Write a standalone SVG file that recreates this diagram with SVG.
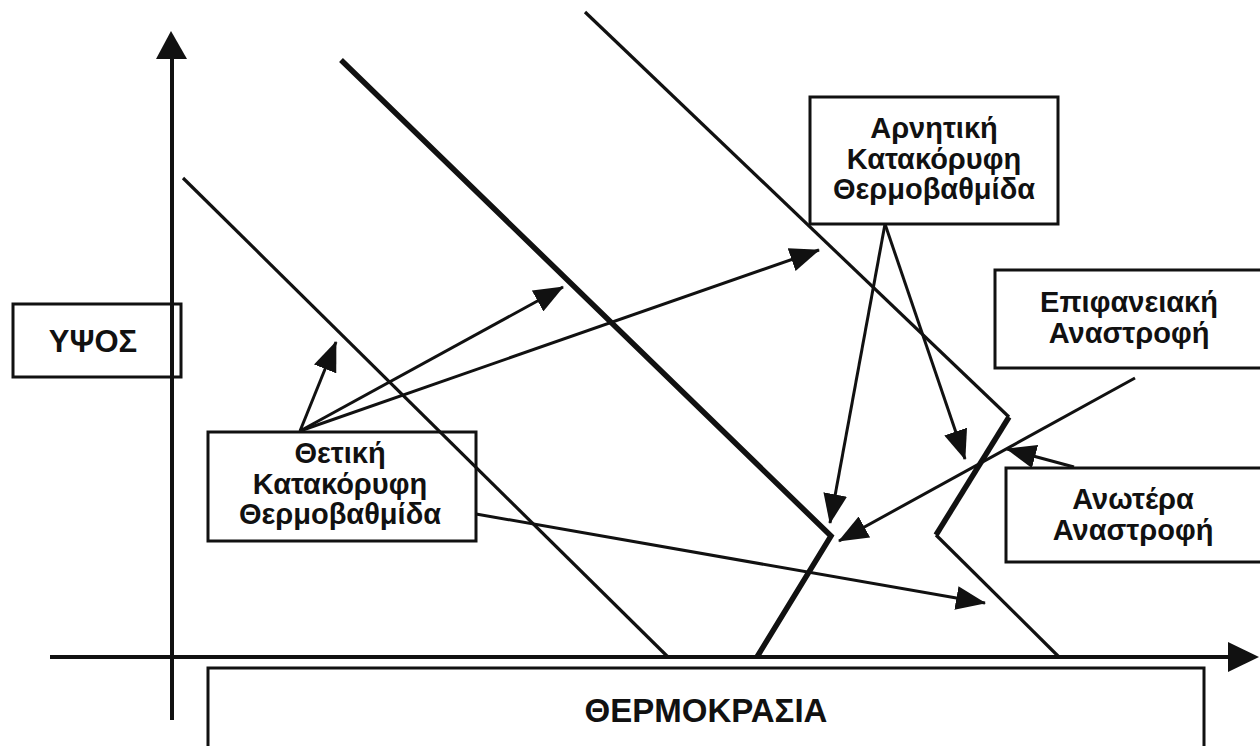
<svg xmlns="http://www.w3.org/2000/svg" width="1260" height="746" viewBox="0 0 1260 746">
<style>
.box{fill:#fff;stroke:#111;stroke-width:3}
.lbl{font-family:"Liberation Sans",Arial,sans-serif;font-weight:bold;font-size:29px;fill:#111;text-anchor:middle}
.big{font-size:31px}
.title{font-size:33px}
.thin{fill:none;stroke:#111;stroke-width:3.2;stroke-linejoin:miter}
.thick{fill:none;stroke:#111;stroke-width:5.5;stroke-linejoin:miter}
.conn{fill:none;stroke:#111;stroke-width:3;marker-end:url(#ah)}
.axis{fill:none;stroke:#111;stroke-width:4}
</style>
<defs>
<marker id="ah" markerUnits="userSpaceOnUse" markerWidth="30" markerHeight="24" viewBox="0 0 30 24" refX="29" refY="12" orient="auto">
<path d="M0,0 L30,12 L0,24 z" fill="#111"/>
</marker>
</defs>
<rect width="1260" height="746" fill="#fff"/>
<g id="ypsos">
<rect class="box" x="13" y="304" width="168" height="73"/>
<text class="lbl big" x="93" y="352">ΥΨΟΣ</text>
</g>
<g id="thermokrasia">
<rect class="box" x="208" y="668" width="996" height="90"/>
<text class="lbl title" x="706" y="722">ΘΕΡΜΟΚΡΑΣΙΑ</text>
</g>
<g id="thetiki">
<rect class="box" x="208" y="432" width="268" height="109"/>
<text class="lbl" x="340" y="463">Θετική</text>
<text class="lbl" x="340" y="494">Κατακόρυφη</text>
<text class="lbl" x="340" y="524">Θερμοβαθμίδα</text>
</g>
<g id="arnitiki">
<rect class="box" x="810" y="97" width="248" height="127"/>
<text class="lbl" x="934" y="138">Αρνητική</text>
<text class="lbl" x="934" y="169">Κατακόρυφη</text>
<text class="lbl" x="934" y="199">Θερμοβαθμίδα</text>
</g>
<g id="epifaneiaki">
<rect class="box" x="995" y="270" width="270" height="98"/>
<text class="lbl" x="1129" y="312">Επιφανειακή</text>
<text class="lbl" x="1129" y="343">Αναστροφή</text>
</g>
<g id="anotera">
<rect class="box" x="1006" y="468" width="260" height="94"/>
<text class="lbl" x="1133" y="509">Ανωτέρα</text>
<text class="lbl" x="1133" y="540">Αναστροφή</text>
</g>
<g id="axes">
<line class="axis" x1="172" y1="720" x2="172" y2="56"/>
<polygon points="171,31 156,59 187,59" fill="#111"/>
<line class="axis" x1="50" y1="657" x2="1232" y2="657"/>
<polygon points="1259,657 1228,642 1228,672" fill="#111"/>
</g>
<g id="profiles">
<polyline class="thin" points="183,178 668,657"/>
<polyline class="thick" points="341,60 831,536 757,657"/>
<polyline class="thin" points="585,12 1009,417"/>
<polyline class="thick" points="1009,417 936,535"/>
<polyline class="thin" points="936,535 1059,657"/>
</g>
<g id="connectors">
<line class="conn" x1="300" y1="431" x2="336" y2="342"/>
<line class="conn" x1="300" y1="431" x2="563" y2="287"/>
<line class="conn" x1="300" y1="431" x2="819" y2="250"/>
<line class="conn" x1="476" y1="514" x2="985" y2="603"/>
<line class="conn" x1="885" y1="224" x2="830" y2="523"/>
<line class="conn" x1="885" y1="224" x2="965" y2="459"/>
<line class="conn" x1="1135" y1="378" x2="839" y2="541"/>
<line class="conn" x1="1074" y1="467" x2="1007" y2="449"/>
</g>
</svg>
